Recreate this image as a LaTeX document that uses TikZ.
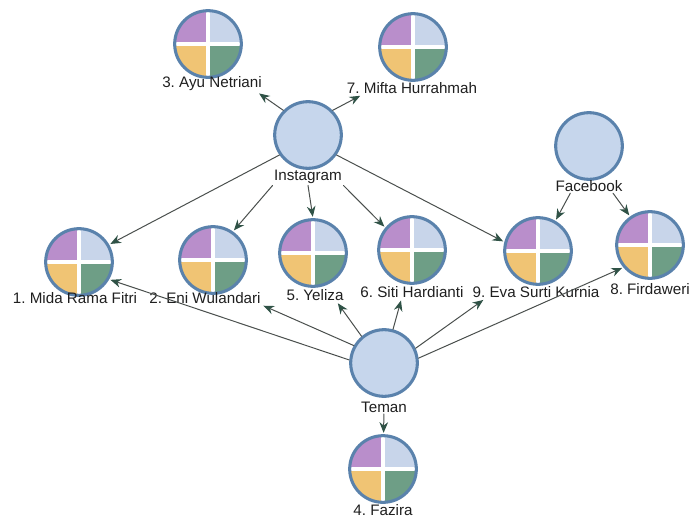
\documentclass[tikz,border=0pt]{standalone}
\usepackage{fontspec}
\setmainfont{Liberation Sans}
\usetikzlibrary{arrows.meta}
\definecolor{rim}{HTML}{5A82AC}
\definecolor{hubfill}{HTML}{C6D6EC}
\definecolor{qpurple}{HTML}{B98ECB}
\definecolor{qblue}{HTML}{C8D5EA}
\definecolor{qorange}{HTML}{F0C474}
\definecolor{qgreen}{HTML}{6E9E86}
\definecolor{linkgrey}{HTML}{4A4F4D}
\definecolor{tipgreen}{HTML}{2F5246}
\frenchspacing
\begin{document}
\begin{tikzpicture}[x=0.75pt, y=-0.75pt, font=\fontsize{11.4}{13}\selectfont, line join=round, line cap=round,
	hub/.style={circle, draw=rim, line width=2.3pt, fill=hubfill, minimum size=50pt, inner sep=0pt},
	pie/.style={hub, path picture={
		\fill[qpurple] (path picture bounding box.center) rectangle (path picture bounding box.north west);
		\fill[qblue] (path picture bounding box.center) rectangle (path picture bounding box.north east);
		\fill[qorange] (path picture bounding box.center) rectangle (path picture bounding box.south west);
		\fill[qgreen] (path picture bounding box.center) rectangle (path picture bounding box.south east);
		\draw[white, line width=3pt] (path picture bounding box.north) -- (path picture bounding box.south)
			(path picture bounding box.west) -- (path picture bounding box.east);}},
	lbl/.style={inner sep=1pt, text=black!88},
	link/.style={draw=linkgrey, line width=0.75pt, shorten >=1pt, -{Stealth[length=8pt, width=6.5pt, color=tipgreen]}}]
	\useasboundingbox (0,0) rectangle (691,517);
	\foreach \n/\x/\y in {ig/308/135, fb/589/146, teman/384/363}
	\node[hub] (\n) at (\x,\y) {};
	\foreach \n/\x/\y in {ayu/208/44, mifta/413/47, mida/79/262, eni/213/260, yeliza/313/253, siti/412/250, eva/538/251, fird/650/245, fazira/383/469}
	\node[pie] (\n) at (\x,\y) {};
	\foreach \n/\x/\y/\t in {ig-l/308/177/{Instagram}, fb-l/589/186/{Facebook}, teman-l/384/407/{Teman},
		ayu-l/212/84/{3. Ayu Netriani}, mifta-l/412/88/{7. Mifta Hurrahmah}, mida-l/75/298/{1. Mida Rama Fitri},
		eni-l/205/298/{2. Eni Wulandari}, yeliza-l/315/295/{5. Yeliza}, siti-l/412/292/{6. Siti Hardianti},
		eva-l/536/292/{9. Eva Surti Kurnia}, fird-l/650/289/{8. Firdaweri}, fazira-l/383/510/{4. Fazira}}
	\node[lbl] (\n) at (\x,\y) {\t};
	\draw[link] (ig.135) -- ([xshift=-4pt]ayu-l.south east);
	\draw[link] (ig.45) -- ([xshift=12pt]mifta-l.south west);
	\draw[link] (ig.215) -- (mida.30);
	\draw[link] (ig-l.south west) -- (eni.55);
	\draw[link] (ig-l.south) -- (yeliza.north);
	\draw[link] (ig-l.south east) -- (siti.140);
	\draw[link] (ig.-35) -- (eva.165);
	\draw[link] ([xshift=-14pt]fb-l.south) -- (eva.60);
	\draw[link] ([xshift=18pt]fb-l.south) -- (fird.125);
	\draw[link] (teman.175) -- (mida.-30);
	\draw[link] (teman.150) -- (eni-l.south east);
	\draw[link] (teman.130) -- ([xshift=-6pt]yeliza-l.south east);
	\draw[link] (teman.75) -- ([xshift=-8pt]siti-l.south);
	\draw[link] (teman.25) -- ([xshift=10pt]eva-l.south west);
	\draw[link] (teman.8) -- (fird.220);
	\draw[link] (teman-l) -- (fazira);
\end{tikzpicture}
\end{document}
